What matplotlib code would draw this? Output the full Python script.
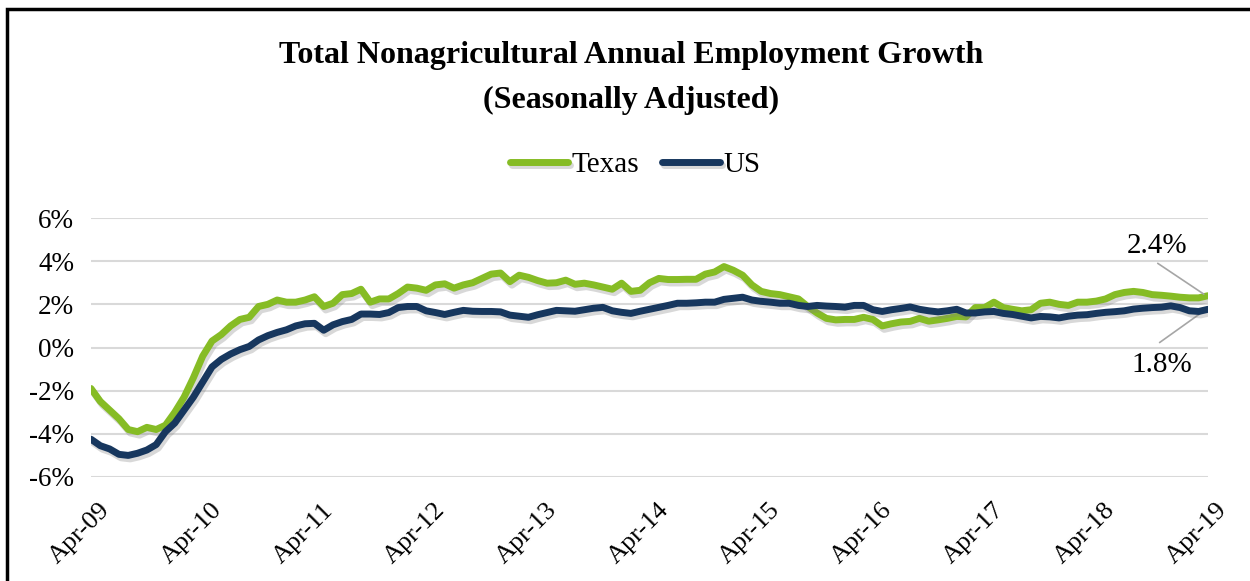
import numpy as np
import matplotlib.pyplot as plt
import matplotlib.patheffects as pe
import matplotlib.transforms as mtransforms
from matplotlib.patches import Rectangle

# monthly annual growth, Apr-09 .. Apr-19 (percent)
texas = [-1.9, -2.5, -2.9, -3.3, -3.8, -3.9, -3.7, -3.8, -3.6, -3.0,
         -2.3, -1.4, -0.4, 0.3, 0.6, 1.0, 1.3, 1.4, 1.9, 2.0,
         2.2, 2.1, 2.1, 2.2, 2.35, 1.9, 2.05, 2.45, 2.5, 2.7,
         2.1, 2.25, 2.25, 2.5, 2.8, 2.75, 2.65, 2.9, 2.95, 2.75,
         2.9, 3.0, 3.2, 3.4, 3.45, 3.05, 3.35, 3.25, 3.1, 2.98,
         3.0, 3.12, 2.93, 2.98, 2.9, 2.8, 2.7, 2.98, 2.6, 2.65,
         3.0, 3.2, 3.15, 3.15, 3.16, 3.16, 3.4, 3.5, 3.75, 3.58,
         3.35, 2.9, 2.6, 2.5, 2.45, 2.35, 2.25, 1.9, 1.6, 1.35,
         1.28, 1.3, 1.3, 1.4, 1.3, 1.0, 1.1, 1.18, 1.21, 1.35,
         1.22, 1.28, 1.35, 1.44, 1.42, 1.85, 1.85, 2.1, 1.85, 1.77,
         1.7, 1.75, 2.05, 2.1, 2.0, 1.95, 2.1, 2.1, 2.15, 2.25,
         2.45, 2.55, 2.6, 2.55, 2.45, 2.42, 2.38, 2.33, 2.3, 2.3,
         2.4]
us = [-4.25, -4.55, -4.7, -4.95, -5.0, -4.9, -4.75, -4.5, -3.9, -3.5,
      -2.9, -2.3, -1.6, -0.9, -0.55, -0.3, -0.1, 0.05, 0.35, 0.55,
      0.7, 0.82, 1.0, 1.1, 1.12, 0.8, 1.05, 1.2, 1.3, 1.55,
      1.55, 1.53, 1.62, 1.85, 1.9, 1.9, 1.7, 1.62, 1.53, 1.63,
      1.72, 1.68, 1.67, 1.67, 1.65, 1.5, 1.45, 1.4, 1.52, 1.62,
      1.72, 1.7, 1.68, 1.75, 1.82, 1.86, 1.7, 1.63, 1.58, 1.68,
      1.77, 1.86, 1.95, 2.05, 2.05, 2.07, 2.1, 2.1, 2.23, 2.28,
      2.33, 2.2, 2.14, 2.1, 2.05, 2.05, 1.95, 1.9, 1.95, 1.92,
      1.9, 1.87, 1.95, 1.95, 1.75, 1.67, 1.75, 1.81, 1.88, 1.77,
      1.7, 1.65, 1.7, 1.77, 1.6, 1.6, 1.65, 1.67, 1.58, 1.53,
      1.45, 1.37, 1.44, 1.42, 1.37, 1.45, 1.5, 1.52, 1.58, 1.63,
      1.66, 1.7, 1.78, 1.82, 1.85, 1.87, 1.93, 1.85, 1.7, 1.67,
      1.77]
tick_labels = ["Apr-09", "Apr-10", "Apr-11", "Apr-12", "Apr-13", "Apr-14",
               "Apr-15", "Apr-16", "Apr-17", "Apr-18", "Apr-19"]

green = "#86BC25"
navy = "#17375E"

plt.rcParams['font.family'] = ['Liberation Serif', 'DejaVu Serif']

fig = plt.figure(figsize=(12.5, 5.81), dpi=100)
ax = fig.add_axes([91/1250, 104/581, (1208-91)/1250, (477-218)/581])

x = np.arange(len(texas))
shadow = [pe.SimpleLineShadow(offset=(1.5, -2.5), shadow_color='gray', alpha=0.3), pe.Normal()]
ax.plot(x, texas, color=green, lw=5, solid_capstyle='round', path_effects=shadow, label="Texas", zorder=3)
ax.plot(x, us, color=navy, lw=5, solid_capstyle='round', path_effects=shadow, label="US", zorder=4)

ax.set_xlim(0, 120)
ax.set_ylim(-6, 6)
ax.set_yticks(range(-6, 7, 2))
ax.set_yticklabels([f"{v}%" for v in range(-6, 7, 2)], fontsize=19.5)
ax.set_xticks(range(0, 121, 12))
ax.set_xticklabels(tick_labels, rotation=45, ha='right', rotation_mode='anchor', fontsize=19)
ax.tick_params(axis='y', length=0, pad=12)
ax.tick_params(axis='x', length=0, pad=16)
shift = mtransforms.ScaledTranslation(8/100, 0, fig.dpi_scale_trans)
for lbl in ax.get_xticklabels():
    lbl.set_transform(lbl.get_transform() + shift)
ax.grid(axis='y', color='#d9d9d9', lw=1.5)
ax.set_axisbelow(True)
for s in ax.spines.values():
    s.set_visible(False)

# end labels with leader lines
ax.text(114.5, 4.72, "2.4%", fontsize=21, ha='center', va='center')
ax.annotate("", xy=(119.8, texas[-1]), xytext=(114.6, 3.9),
            arrowprops=dict(arrowstyle='-', color='#a6a6a6', lw=1.2, shrinkA=0, shrinkB=2))
ax.text(115, -0.83, "1.8%", fontsize=21, ha='center', va='center')
ax.annotate("", xy=(119.8, us[-1]), xytext=(114.8, 0.23),
            arrowprops=dict(arrowstyle='-', color='#a6a6a6', lw=1.2, shrinkA=0, shrinkB=2))

fig.text(0.505, 1 - 55/581, "Total Nonagricultural Annual Employment Growth",
         ha='center', va='center', fontsize=23, fontweight='bold')
fig.text(0.505, 1 - 100/581, "(Seasonally Adjusted)",
         ha='center', va='center', fontsize=23, fontweight='bold')

fig.legend(loc='center', bbox_to_anchor=(0.508, 1 - 165/581), ncol=2, frameon=False,
           fontsize=21, handlelength=2.0, handletextpad=0.1, columnspacing=0.8)

fig.patches.append(Rectangle((7/1250, -0.1), 1.2, 1 - 9/581 + 0.1, transform=fig.transFigure,
                             fill=False, edgecolor='black', lw=2.5))

fig.savefig("out.png", dpi=100)
